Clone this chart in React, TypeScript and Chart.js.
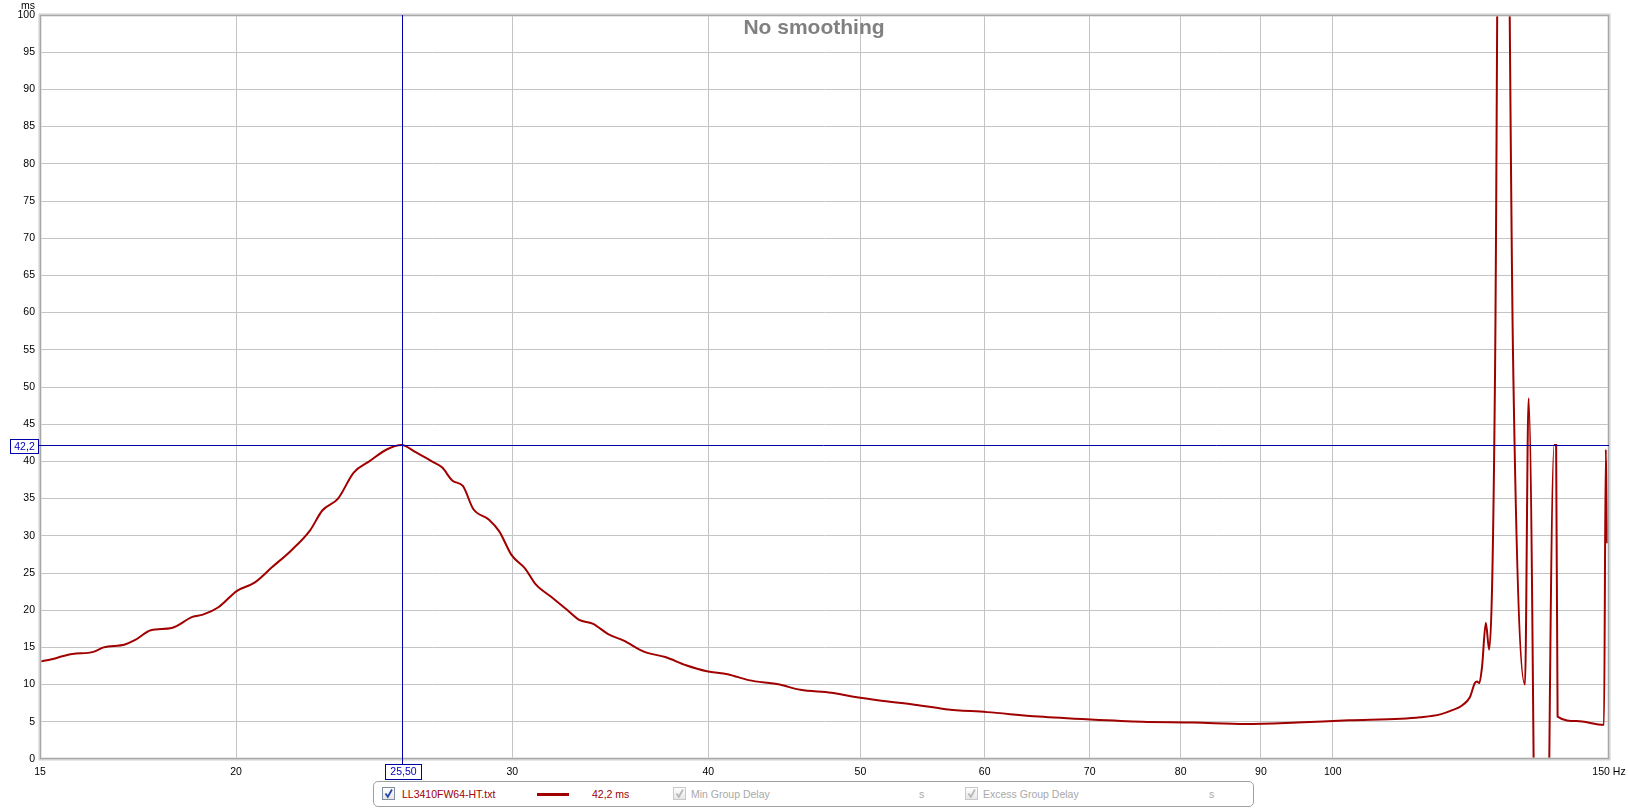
import React, { useEffect, useRef } from 'react';
import { Chart, registerables } from 'chart.js';

Chart.register(...registerables);

// ---------- data ----------
const freqs = [
  15.0, 15.26, 15.5, 15.73, 16.22, 16.47, 16.99, 17.25, 17.65, 18.2, 18.76, 19.05, 19.49,
  20.03, 20.55, 21.09, 21.68, 22.29, 22.7, 23.23, 23.77, 24.32, 24.95, 25.5, 26.05, 26.66,
  27.06, 27.48, 27.9, 28.33, 28.98, 29.43, 29.97, 30.57, 31.04, 31.76, 32.49, 33.09, 33.75,
  34.53, 35.33, 36.42, 37.55, 38.71, 39.91, 41.15, 42.43, 44.41, 45.78, 47.91, 49.39, 51.71,
  54.13, 56.66, 60.21, 64.96, 70.08, 75.6, 81.56, 87.99, 94.9, 102.4, 110.5, 113.7, 117.1,
  119.3, 120.9, 122.3, 123.2, 123.6, 124.0, 124.5, 125.2, 125.8, 126.9, 128.2, 130.3, 132.6,
  133.3, 135.8, 138.4, 138.8, 139.1, 143.0, 148.9, 149.3, 149.6,
];
const delays = [
  13.1, 13.4, 13.8, 14.1, 14.4, 15.0, 15.4, 16.0, 17.3, 17.6, 19.1, 19.4, 20.4,
  22.6, 23.7, 25.8, 28.0, 30.7, 33.4, 35.0, 38.5, 40.0, 41.6, 42.2, 41.2, 40.0,
  39.2, 37.4, 36.7, 33.6, 32.2, 30.6, 27.4, 25.6, 23.5, 21.8, 20.1, 18.7, 18.2,
  16.8, 15.9, 14.4, 13.7, 12.6, 11.8, 11.4, 10.6, 10.0, 9.3, 8.9, 8.4, 7.8,
  7.3, 6.7, 6.3, 5.7, 5.3, 5.0, 4.9, 4.7, 4.9, 5.2, 5.4, 5.6, 6.0,
  6.6, 7.2, 8.3, 10.2, 10.4, 10.2, 12.4, 18.3, 14.7, 52, 200, 54, 10.0,
  48.5, -90, 42.2, 42.2, 5.7, 5.1, 4.6, 41.6, 29.0,
];
const xTicks = [15, 20, 30, 40, 50, 60, 70, 80, 90, 100, 150];
const xMin = 15;
const xMax = 150;
const yMin = 0;
const yMax = 100;
const yStep = 5;
const xUnit = 'Hz';
const yUnit = 'ms';
const titleText = 'No smoothing';
const cursorHz = 25.5;
const cursorMs = 42.2;
const cursorHzLabel = '25,50';
const cursorMsLabel = '42,2';
const seriesName = 'LL3410FW64-HT.txt';
const seriesReadout = '42,2 ms';
const minGdName = 'Min Group Delay';
const excessGdName = 'Excess Group Delay';
const otherUnit = 's';

const FONT = 'Arial, "Liberation Sans", sans-serif';
const CURVE = '#a00000';
const CURSOR = '#0000a8';
const GRID = '#c4c4c4';
const SMALL = 10.5;

const overlayPlugin = {
  id: 'overlay',
  afterDraw(chart: any) {
    const { ctx, chartArea: a, scales } = chart;
    ctx.save();
    // frame
    ctx.strokeStyle = '#d0d0d0';
    ctx.lineWidth = 3;
    ctx.strokeRect(a.left, a.top, a.right - a.left, a.bottom - a.top);
    ctx.strokeStyle = '#a8a8a8';
    ctx.lineWidth = 1;
    ctx.strokeRect(a.left + 0.5, a.top + 0.5, a.right - a.left - 1, a.bottom - a.top - 1);

    // title
    ctx.font = 'bold 21px ' + FONT;
    ctx.fillStyle = '#808080';
    ctx.textAlign = 'center';
    ctx.textBaseline = 'middle';
    ctx.fillText(titleText, chart.width / 2, 28);

    // y unit
    ctx.font = SMALL + 'px ' + FONT;
    ctx.fillStyle = '#000';
    ctx.textAlign = 'right';
    ctx.fillText(yUnit, a.left - 5, 6);

    // cursors
    const cx = Math.round(scales.x.getPixelForValue(cursorHz)) + 0.5;
    const cy = Math.round(scales.y.getPixelForValue(cursorMs)) + 0.5;
    ctx.strokeStyle = CURSOR;
    ctx.lineWidth = 1;
    ctx.beginPath();
    ctx.moveTo(cx, a.top);
    ctx.lineTo(cx, a.bottom + 5);
    ctx.moveTo(a.left - 2, cy);
    ctx.lineTo(a.right, cy);
    ctx.stroke();

    // x cursor box
    ctx.textAlign = 'center';
    ctx.textBaseline = 'middle';
    const bw = 36, bh = 15;
    const bx = Math.round(cx - bw / 2) + 0.5;
    const by = a.bottom + 5.5;
    ctx.fillStyle = '#fff';
    ctx.fillRect(bx, by, bw, bh);
    ctx.strokeRect(bx, by, bw, bh);
    ctx.fillStyle = '#0000c0';
    ctx.fillText(cursorHzLabel, bx + bw / 2, by + bh / 2 + 0.5);

    // y cursor box
    const yw = 28, yh = 14;
    const yx = a.left - 2 - yw + 0.5;
    const yy = Math.round(cy - yh / 2) + 0.5;
    ctx.fillStyle = '#fff';
    ctx.fillRect(yx, yy, yw, yh);
    ctx.strokeRect(yx, yy, yw, yh);
    ctx.fillStyle = '#0000c0';
    ctx.fillText(cursorMsLabel, yx + yw / 2, yy + yh / 2 + 0.5);
    ctx.restore();
  },
};

function CheckBox({ x, y, active }: { x: number; y: number; active: boolean }) {
  return (
    <div
      style={{
        position: 'absolute',
        left: x,
        top: y,
        width: 11,
        height: 11,
        border: '1px solid ' + (active ? '#8090a0' : '#c8c8c8'),
        background: 'linear-gradient(#ffffff, #e6e6e6)',
      }}
    >
      <svg width="11" height="11" style={{ position: 'absolute', left: 0, top: 0 }}>
        <path
          d="M2.5 5.5 L4.8 8.8 L9 1.5"
          stroke={active ? '#2848a8' : '#b8b8b8'}
          strokeWidth={1.8}
          fill="none"
        />
      </svg>
    </div>
  );
}

function Txt({ x, text, color }: { x: number; text: string; color: string }) {
  return (
    <span
      style={{
        position: 'absolute',
        left: x,
        top: 787,
        lineHeight: '14px',
        fontSize: SMALL + 'px',
        fontFamily: FONT,
        color,
        whiteSpace: 'nowrap',
      }}
    >
      {text}
    </span>
  );
}

export default function App() {
  const ref = useRef<HTMLCanvasElement | null>(null);

  useEffect(() => {
    if (!ref.current) return;
    const points = freqs.map((f, i) => ({ x: f, y: delays[i] }));
    const chart = new Chart(ref.current, {
      type: 'line',
      data: {
        datasets: [
          {
            label: seriesName,
            data: points,
            borderColor: CURVE,
            borderWidth: 2,
            pointRadius: 0,
            cubicInterpolationMode: 'monotone',
            fill: false,
          },
        ],
      },
      plugins: [overlayPlugin],
      options: {
        animation: false,
        responsive: false,
        events: [],
        layout: { padding: { top: 15, right: 19, left: 0, bottom: 0 } },
        plugins: {
          legend: { display: false },
          title: { display: false },
          tooltip: { enabled: false },
        },
        scales: {
          x: {
            type: 'logarithmic',
            min: xMin,
            max: xMax,
            afterBuildTicks: (scale: any) => {
              scale.ticks = xTicks.map((v) => ({ value: v }));
            },
            afterFit: (scale: any) => {
              scale.height = 49;
            },
            grid: {
              color: GRID,
              lineWidth: 1,
              drawTicks: true,
              tickLength: 7,
              tickColor: 'rgba(0,0,0,0)',
            },
            border: { display: false },
            ticks: {
              autoSkip: false,
              maxRotation: 0,
              minRotation: 0,
              padding: 0,
              color: '#000',
              font: { family: FONT, size: SMALL },
              callback: (v: any) => (Number(v) === xMax ? `${v} ${xUnit}` : String(v)),
            },
          },
          y: {
            type: 'linear',
            min: yMin,
            max: yMax,
            afterFit: (scale: any) => {
              scale.width = 40;
            },
            grid: { color: GRID, lineWidth: 1, drawTicks: false },
            border: { display: false },
            ticks: {
              stepSize: yStep,
              padding: 5,
              color: '#000',
              font: { family: FONT, size: SMALL },
              callback: (v: any) => String(v),
            },
          },
        },
      },
    } as any);
    return () => chart.destroy();
  }, []);

  return (
    <div
      style={{
        position: 'absolute',
        left: 0,
        top: 0,
        width: 1628,
        height: 808,
        background: '#fff',
        overflow: 'hidden',
      }}
    >
      <canvas ref={ref} width={1628} height={808} style={{ display: 'block' }} />
      <div
        style={{
          position: 'absolute',
          left: 373,
          top: 781,
          width: 879,
          height: 24,
          border: '1px solid #a0a0a0',
          borderRadius: 5,
          background: '#fff',
        }}
      />
      <CheckBox x={382} y={787} active={true} />
      <Txt x={402} text={seriesName} color={CURVE} />
      <div
        style={{
          position: 'absolute',
          left: 537,
          top: 793,
          width: 32,
          height: 3,
          background: CURVE,
        }}
      />
      <Txt x={592} text={seriesReadout} color={CURVE} />
      <CheckBox x={673} y={787} active={false} />
      <Txt x={691} text={minGdName} color="#a8a8a8" />
      <Txt x={919} text={otherUnit} color="#a8a8a8" />
      <CheckBox x={965} y={787} active={false} />
      <Txt x={983} text={excessGdName} color="#a8a8a8" />
      <Txt x={1209} text={otherUnit} color="#a8a8a8" />
    </div>
  );
}
